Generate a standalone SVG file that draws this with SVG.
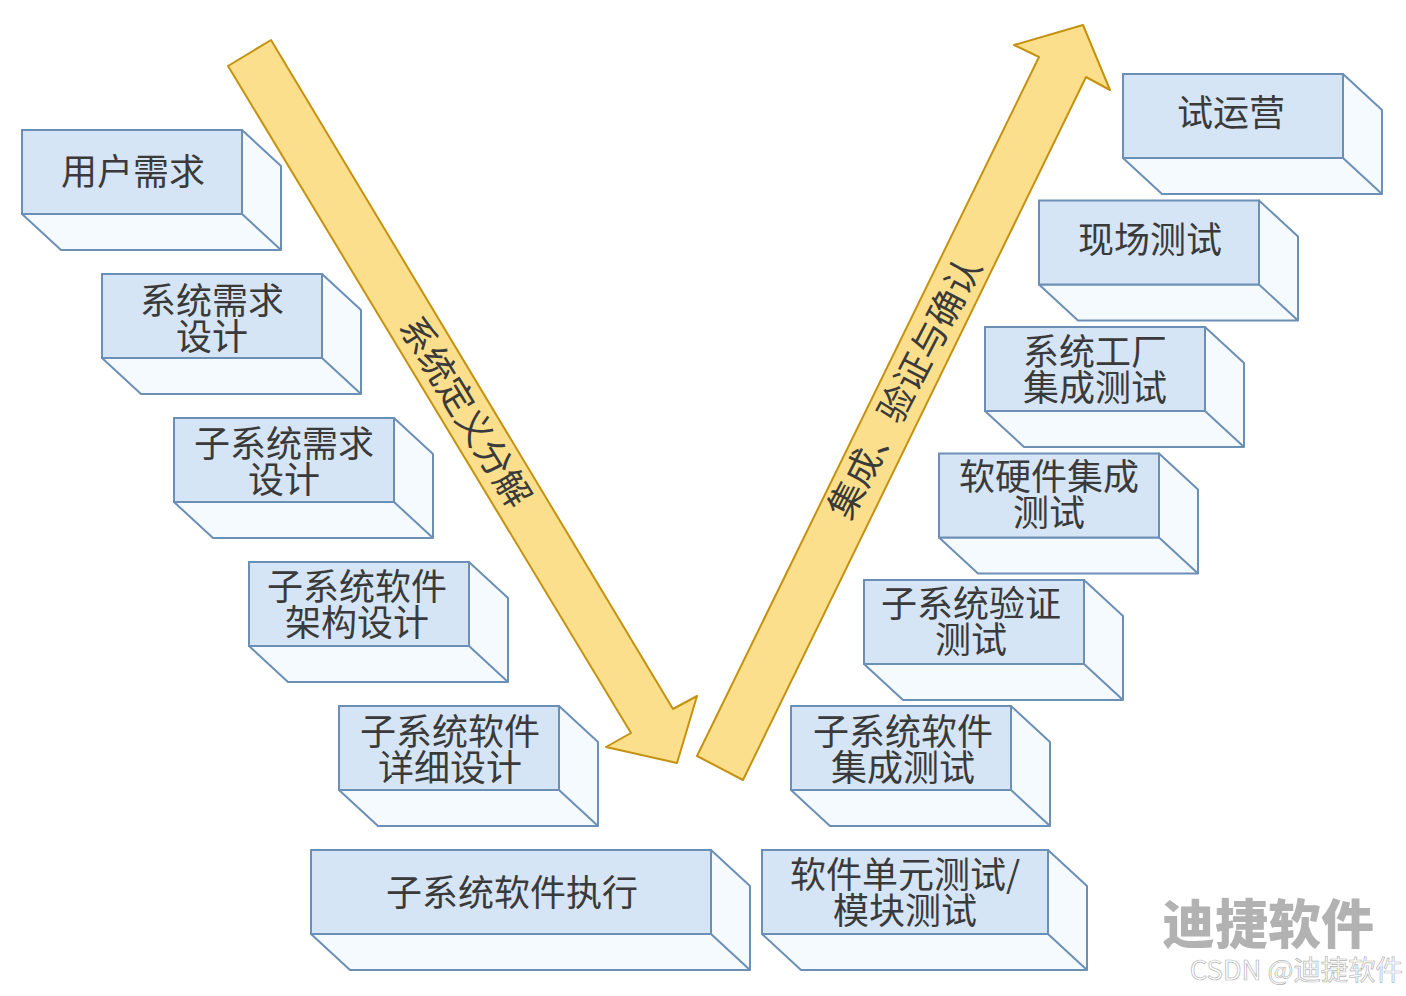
<svg xmlns="http://www.w3.org/2000/svg" width="1406" height="996" viewBox="0 0 1406 996">
<defs><style>
.f{fill:#d5e5f5;stroke:#6c8fb5;stroke-width:2}
.s{fill:#f5faff;stroke:#6c8fb5;stroke-width:2;stroke-linejoin:round}
.t{font-family:"Noto Sans CJK SC","Noto Sans",sans-serif;font-size:36px;fill:#3a3a3a;text-anchor:middle}
.a{fill:#fcdf8c;stroke:#c4920f;stroke-width:2;stroke-linejoin:round}
.wm{font-family:"Noto Sans CJK SC",sans-serif;font-weight:900;font-size:53px;fill:#b2b2b2;text-anchor:middle}
.wc{font-family:"Noto Sans CJK SC",sans-serif;font-size:27.4px;fill:#fff;stroke:#b5b5b5;stroke-width:.7;text-anchor:end}
</style></defs>
<rect width="1406" height="996" fill="#fff"/>
<g id="connectors">
<polygon id="arrow-down" class="a" points="271,40 228,66 631,733 606,747 677,763 697,696 673,709"/>
<polygon id="arrow-up" class="a" points="697,756 743,780 1086,77 1110,90 1083,25 1014,45 1039,57"/>
<text class="t" transform="translate(465,412) rotate(58.5)" y="12.5">系统定义分解</text>
<text class="t" transform="translate(905,388) rotate(-62.5)" y="12.5">集成、验证与确认</text>
</g>
<g id="n1"><path class="s" d="M242,130L281,166V250L242,214ZM22,214H242L281,250H61Z"/><rect class="f" x="22" y="130" width="220" height="84"/><text class="t" x="133" y="185">用户需求</text></g>
<g id="n2"><path class="s" d="M322,274L361,310V394L322,358ZM102,358H322L361,394H141Z"/><rect class="f" x="102" y="274" width="220" height="84"/><text class="t" x="212" y="314">系统需求<tspan x="212" dy="36">设计</tspan></text></g>
<g id="n3"><path class="s" d="M394,418L433,454V538L394,502ZM174,502H394L433,538H213Z"/><rect class="f" x="174" y="418" width="220" height="84"/><text class="t" x="284" y="457">子系统需求<tspan x="284" dy="36">设计</tspan></text></g>
<g id="n4"><path class="s" d="M469,562L508,598V682L469,646ZM249,646H469L508,682H288Z"/><rect class="f" x="249" y="562" width="220" height="84"/><text class="t" x="357" y="600">子系统软件<tspan x="357" dy="36">架构设计</tspan></text></g>
<g id="n5"><path class="s" d="M559,706L598,742V826L559,790ZM339,790H559L598,826H378Z"/><rect class="f" x="339" y="706" width="220" height="84"/><text class="t" x="450" y="745">子系统软件<tspan x="450" dy="36">详细设计</tspan></text></g>
<g id="n6"><path class="s" d="M711,850L750,886V970L711,934ZM311,934H711L750,970H350Z"/><rect class="f" x="311" y="850" width="400" height="84"/><text class="t" x="512" y="906">子系统软件执行</text></g>
<g id="n7"><path class="s" d="M1048,850L1087,886V970L1048,934ZM762,934H1048L1087,970H801Z"/><rect class="f" x="762" y="850" width="286" height="84"/><text class="t" x="905" y="888">软件单元测试/<tspan x="905" dy="36">模块测试</tspan></text></g>
<g id="n8"><path class="s" d="M1011,706L1050,742V826L1011,790ZM791,790H1011L1050,826H830Z"/><rect class="f" x="791" y="706" width="220" height="84"/><text class="t" x="903" y="745">子系统软件<tspan x="903" dy="36">集成测试</tspan></text></g>
<g id="n9"><path class="s" d="M1084,580L1123,616V700L1084,664ZM864,664H1084L1123,700H903Z"/><rect class="f" x="864" y="580" width="220" height="84"/><text class="t" x="971" y="617">子系统验证<tspan x="971" dy="36">测试</tspan></text></g>
<g id="n10"><path class="s" d="M1159,453.500L1198,489.500V573.500L1159,537.500ZM939,537.500H1159L1198,573.500H978Z"/><rect class="f" x="939" y="453.500" width="220" height="84"/><text class="t" x="1049" y="490">软硬件集成<tspan x="1049" dy="36">测试</tspan></text></g>
<g id="n11"><path class="s" d="M1205,327L1244,363V447L1205,411ZM985,411H1205L1244,447H1024Z"/><rect class="f" x="985" y="327" width="220" height="84"/><text class="t" x="1095" y="365">系统工厂<tspan x="1095" dy="36">集成测试</tspan></text></g>
<g id="n12"><path class="s" d="M1259,200.500L1298,236.500V320.500L1259,284.500ZM1039,284.500H1259L1298,320.500H1078Z"/><rect class="f" x="1039" y="200.500" width="220" height="84"/><text class="t" x="1150" y="253">现场测试</text></g>
<g id="n13"><path class="s" d="M1343,74L1382,110V194L1343,158ZM1123,158H1343L1382,194H1162Z"/><rect class="f" x="1123" y="74" width="220" height="84"/><text class="t" x="1231" y="126">试运营</text></g>
<g id="watermark">
<text class="wm" x="1268" y="944">迪捷软件</text>
<text class="wc" x="1403" y="980">CSDN @迪捷软件</text>
</g>
</svg>
